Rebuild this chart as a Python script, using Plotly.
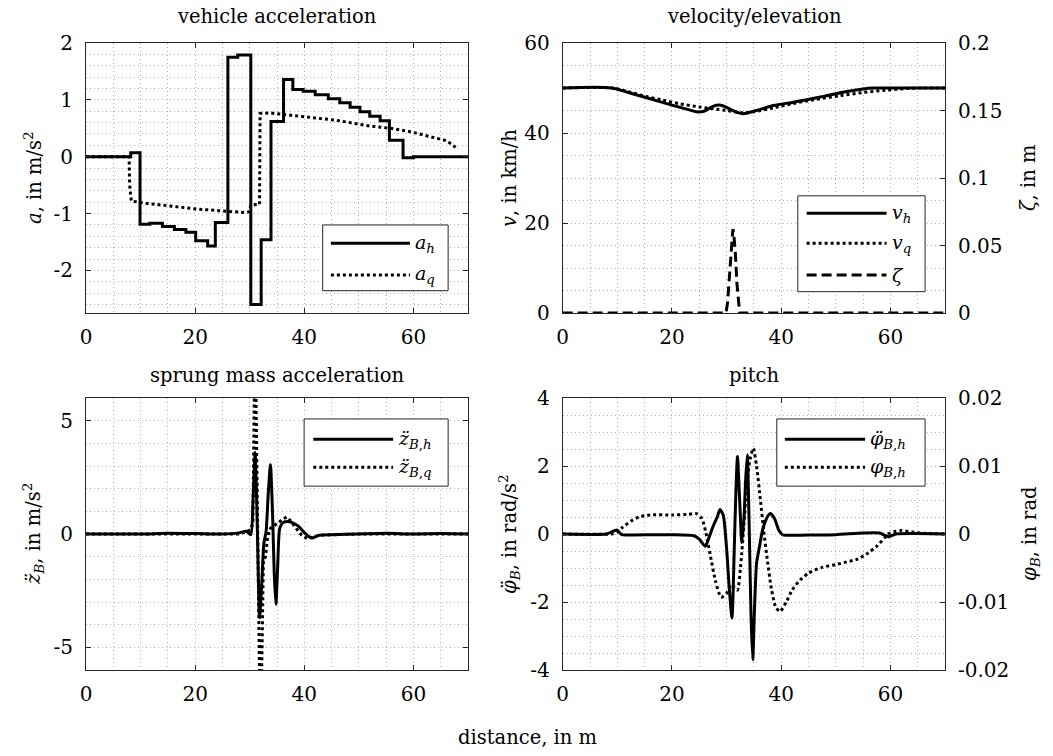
import plotly.graph_objects as go

# ---------------- data ----------------
x_ticks = [0, 20, 40, 60]

# vehicle acceleration in m/s^2: stair profile a_h (segment start positions, m) and a_q
ah_x = [0, 8.2, 9.9, 11.7, 14.0, 16.2, 18.3, 20.1, 22.3, 23.7, 26.0, 27.8, 30.2, 32.1, 33.9,
        36.2, 37.9, 39.8, 42.0, 44.4, 46.5, 48.4, 50.2, 52.0, 53.9, 55.6, 58.1, 60.0, 70.0]
ah_val = [0, 0.07, -1.19, -1.17, -1.23, -1.28, -1.33, -1.48, -1.57, -1.16, 1.75, 1.79, -2.6, -1.46, 0.62,
          1.36, 1.18, 1.15, 1.09, 1.02, 0.95, 0.87, 0.79, 0.71, 0.63, 0.29, -0.02, 0, 0]
aq_x = [0, 7.9, 8.0, 8.3, 11, 15.3, 20.2, 24.4, 28.7, 29.9, 30.2, 31.8, 31.9, 33.7,
        39.8, 45.9, 52.0, 55.7, 59.4, 63.0, 66.1, 68.2]
aq_val = [0, 0, -0.5, -0.78, -0.82, -0.865, -0.92, -0.95, -0.98, -0.97, -0.85, -0.84, 0.76, 0.77,
          0.70, 0.64, 0.54, 0.50, 0.44, 0.36, 0.28, 0.13]

# velocity in km/h and road elevation in m
vh_x = [0, 9, 12, 16, 20, 23, 24.5, 26, 27.5, 28.7, 30, 31.5, 33, 36, 38.6, 42, 44.7, 48, 52, 55, 57, 60, 70]
vh_val = [50, 50, 49.0, 47.6, 46.2, 45.2, 44.7, 44.9, 45.9, 46.2, 45.7, 44.8, 44.3, 45.2, 46.1, 46.8,
          47.4, 48.2, 49.2, 49.8, 50, 50, 50]
vq_x = [0, 9, 12, 15.3, 18, 21.4, 25, 28, 30, 33, 35, 38.6, 42, 46, 50.8, 55, 59, 63, 66, 70]
vq_val = [50, 50, 49.2, 48.1, 47.4, 46.5, 45.8, 45.3, 45.0, 44.5, 44.7, 45.6, 46.5, 47.4, 48.3,
          49.0, 49.5, 49.9, 50, 50]
zeta_x = [0, 29.9, 30.2, 30.5, 30.8, 31.0, 31.15, 31.3, 31.6, 31.9, 32.2, 32.4, 70]
zeta_val = [0, 0, 0.008, 0.025, 0.047, 0.058, 0.062, 0.06, 0.045, 0.022, 0.006, 0, 0]

# sprung mass vertical acceleration in m/s^2
zh_x = [0, 10, 15, 20, 25, 28, 29.4, 30.2, 30.6, 31.0, 31.4, 31.8, 32.2, 32.6, 33.0, 33.4, 33.8,
        34.2, 34.5, 34.8, 35.1, 35.5, 36.1, 37.0, 37.8, 38.9, 40.1, 41.4, 42.6, 45, 50, 55, 60, 65, 70]
zh_val = [0, 0, 0.03, 0.02, 0, 0.05, 0.12, -0.03, 1.5, 3.6, 0.2, -3.7, -2.2, -0.4, 0.1, 1.8, 3.05,
          0.8, -1.8, -3.1, -1.6, 0.25, 0.5, 0.55, 0.5, 0.35, 0.04, -0.18, -0.06, -0.03, 0, 0.03, 0, 0.02, 0]
zq_x = [0, 10, 20, 28, 29.5, 30.2, 30.6, 30.9, 31.0, 31.15, 31.6, 32.0, 32.2, 32.5, 32.9, 33.2,
        33.6, 34.2, 35, 36, 36.8, 37.6, 38.5, 39.5, 40.5, 41.5, 43, 50, 60, 70]
zq_val = [0, 0, 0.02, 0, 0.1, 0.2, 0.5, 4.0, 10.0, 6.0, -2.0, -10.0, -6.0, -1.2, -1.0, -0.3,
          0.2, 0.35, 0.45, 0.65, 0.75, 0.55, 0.25, -0.05, -0.2, -0.15, -0.05, 0, 0, 0]

# pitch acceleration in rad/s^2 and pitch angle in rad
pa_x = [0, 8.0, 8.8, 9.9, 10.8, 12, 20, 24, 25.0, 26.1, 26.8, 27.6, 28.3, 28.8, 29.4, 30.0, 30.5,
        31.0, 31.4, 31.7, 32.0, 32.4, 32.8, 33.2, 33.5, 33.8, 34.1, 34.5, 34.8, 35.1, 35.5, 36.0,
        36.6, 37.3, 38.0, 38.8, 39.6, 40.3, 41.0, 45, 50, 55, 58, 59.7, 61, 70]
pa_val = [0, 0, 0.05, 0.12, -0.02, -0.03, -0.02, -0.05, -0.15, -0.36, -0.1, 0.25, 0.5, 0.72, 0.55,
          -0.4, -1.6, -2.47, -0.5, 1.2, 2.28, 1.0, -0.25, 0.5, 1.6, 2.33, 0.6, -2.5, -3.7, -2.3,
          -0.85, -0.4, 0.12, 0.45, 0.6, 0.45, 0.1, -0.03, -0.04, -0.03, -0.02, 0.03, 0.03, -0.08, 0, 0]
pitch_x = [0, 9, 10, 11, 12.5, 14, 16, 20, 23, 24.5, 25.5, 26.2, 27, 28, 29, 30, 30.8, 31.5, 32,
           32.6, 33.2, 33.7, 34.3, 34.9, 35.5, 36.2, 36.8, 37.5, 38.2, 39, 39.8, 41, 42, 43.5, 45,
           47.5, 50, 52, 54, 56, 57.5, 59, 59.5, 61, 62, 64, 66, 70]
pitch_val = [0, 0, 0.00025, 0.001, 0.0019, 0.0025, 0.0028, 0.0028, 0.0029, 0.003, 0.00225, 0.00025,
             -0.003, -0.007, -0.0093, -0.00875, -0.0075, -0.008, -0.00825, -0.0045, 0.0015, 0.007,
             0.011, 0.0126, 0.01, 0.005, 0.0005, -0.004, -0.008, -0.01075, -0.0114, -0.0099,
             -0.00825, -0.00675, -0.00575, -0.0049, -0.0045, -0.0041, -0.0037, -0.00275, -0.0018,
             -0.0005, 0, 0.0004, 0.0005, 0.0003, 0.0001, 0]

# ---------------- figure ----------------
W, H = 1053, 756
FONT = "DejaVu Serif"
INK = "#000000"
AXC = "#262626"
GRIDC = "#b0b0b0"
GRIDDASH = "1px,3px"
LW = 3
TICK_SIZE = 20
LABEL_SIZE = 19.5
LEG_SIZE = 19


def fx(p):
    return p / W


def fy(p):
    return 1 - p / H


fig = go.Figure()


def add_line(x, y, xa, ya, dash="solid", shape="linear", smoothing=None):
    line = dict(color=INK, width=LW, dash=dash, shape=shape)
    if smoothing is not None:
        line["smoothing"] = smoothing
    fig.add_trace(go.Scatter(x=x, y=y, xaxis=xa, yaxis=ya, mode="lines", line=line,
                             showlegend=False, hoverinfo="skip"))


add_line(ah_x, ah_val, "x", "y", shape="hv")
add_line(aq_x, aq_val, "x", "y", dash="dot")
add_line(vh_x, vh_val, "x2", "y2", shape="spline", smoothing=0.8)
add_line(vq_x, vq_val, "x2", "y2", dash="dot", shape="spline", smoothing=0.8)
add_line(zeta_x, zeta_val, "x2", "y5", dash="10px,5px")
add_line(zh_x, zh_val, "x3", "y3", shape="spline", smoothing=0.6)
add_line(zq_x, zq_val, "x3", "y3", dash="dot")
add_line(pa_x, pa_val, "x4", "y4", shape="spline", smoothing=0.6)
add_line(pitch_x, pitch_val, "x4", "y6", dash="dot", shape="spline", smoothing=0.6)

tickfont = dict(family=FONT, size=TICK_SIZE, color=INK)
grid = dict(showgrid=True, gridcolor=GRIDC, griddash=GRIDDASH, gridwidth=1)


def xaxis(domain, anchor):
    return dict(domain=domain, anchor=anchor, range=[0, 70], tickvals=x_ticks,
                ticktext=[str(v) for v in x_ticks], ticks="inside", ticklen=5, tickcolor=AXC,
                showline=True, linecolor=AXC, linewidth=1, mirror="ticks", zeroline=False,
                tickfont=tickfont, ticklabelstandoff=6,
                minor=dict(dtick=5, ticks="", **grid), **grid)


def yaxis(domain, anchor, rng, vals, texts, minor_dtick, mirror="ticks"):
    return dict(domain=domain, anchor=anchor, range=rng, tickvals=vals, ticktext=texts,
                ticks="inside", ticklen=5, tickcolor=AXC, showline=True, linecolor=AXC,
                linewidth=1, mirror=mirror, zeroline=False, tickfont=tickfont,
                ticklabelstandoff=8, minor=dict(dtick=minor_dtick, tick0=0, ticks="", **grid), **grid)


def yaxis_right(over, anchor, rng, vals, texts):
    return dict(overlaying=over, anchor=anchor, side="right", range=rng, tickvals=vals,
                ticktext=texts, ticks="inside", ticklen=5, tickcolor=AXC, showline=True,
                linecolor=AXC, linewidth=1, zeroline=False, showgrid=False,
                tickfont=tickfont, ticklabelstandoff=8)


dx_l = [fx(86), fx(468)]
dx_r = [fx(562.7), fx(945)]
dy_t = [fy(313), fy(43)]
dy_b = [fy(670), fy(398)]

fig.update_layout(
    width=W, height=H, template="none",
    margin=dict(l=0, r=0, t=0, b=0),
    paper_bgcolor="white", plot_bgcolor="white", showlegend=False,
    font=dict(family=FONT, size=TICK_SIZE, color=INK),
    xaxis=xaxis(dx_l, "y"),
    xaxis2=xaxis(dx_r, "y2"),
    xaxis3=xaxis(dx_l, "y3"),
    xaxis4=xaxis(dx_r, "y4"),
    yaxis=yaxis(dy_t, "x", [-2.75, 2], [-2, -1, 0, 1, 2], ["-2", "-1", "0", "1", "2"], 0.2),
    yaxis2=yaxis(dy_t, "x2", [0, 60], [0, 20, 40, 60], ["0", "20", "40", "60"], 5, mirror=False),
    yaxis3=yaxis(dy_b, "x3", [-6, 6], [-5, 0, 5], ["-5", "0", "5"], 1),
    yaxis4=yaxis(dy_b, "x4", [-4, 4], [-4, -2, 0, 2, 4], ["-4", "-2", "0", "2", "4"], 0.5, mirror=False),
    yaxis5=yaxis_right("y2", "x2", [0, 0.2], [0, 0.05, 0.1, 0.15, 0.2],
                       ["0", "0.05", "0.1", "0.15", "0.2"]),
    yaxis6=yaxis_right("y4", "x4", [-0.02, 0.02], [-0.02, -0.01, 0, 0.01, 0.02],
                       ["-0.02", "-0.01", "0", "0.01", "0.02"]),
)


def text(px, py, s, angle=0, size=LABEL_SIZE):
    fig.add_annotation(x=fx(px), y=fy(py), xref="paper", yref="paper", text=s, showarrow=False,
                       xanchor="center", yanchor="middle", textangle=angle,
                       font=dict(family=FONT, size=size, color=INK))


# panel titles
text(277, 16, "vehicle acceleration")
text(754, 16, "velocity/elevation")
text(277, 375, "sprung mass acceleration")
text(754, 375, "pitch")

# axis labels
text(527, 737, "distance, in m")
text(33, 178, "<i>a</i>, in m/s<sup>2</sup>", -90)
text(509, 178, "<i>v</i>, in km/h", -90)
text(1028, 178, "<i>ζ</i>, in m", -90)
text(33, 534, "<i>z\u0308</i><sub><i>B</i></sub>, in m/s<sup>2</sup>", -90)
text(509, 534, "<i>φ\u0308</i><sub><i>B</i></sub>, in rad/s<sup>2</sup>", -90)
text(1030, 534, "<i>φ</i><sub><i>B</i></sub>, in rad", -90)


def legend_box(xa, ya, box, line_x, text_x, entries):
    xr, yr = f"{xa} domain", f"{ya} domain"
    fig.add_shape(type="rect", xref=xr, yref=yr, x0=box[0], x1=box[1], y0=box[2], y1=box[3],
                  line=dict(color=AXC, width=1), fillcolor="white", layer="above")
    for label, dash, yy in entries:
        fig.add_shape(type="line", xref=xr, yref=yr, x0=line_x[0], x1=line_x[1], y0=yy, y1=yy,
                      line=dict(color=INK, width=LW, dash=dash), layer="above")
        fig.add_annotation(xref=xr, yref=yr, x=text_x, y=yy, text=label, showarrow=False,
                           xanchor="left", yanchor="middle",
                           font=dict(family=FONT, size=LEG_SIZE, color=INK))


legend_box("x", "y", (0.6196, 0.948, 0.0826, 0.326), (0.641, 0.848), 0.855,
           [("<i>a</i><sub><i>h</i></sub>", "solid", 0.258),
            ("<i>a</i><sub><i>q</i></sub>", "dot", 0.141)])
legend_box("x2", "y2", (0.615, 0.948, 0.079, 0.434), (0.638, 0.847), 0.855,
           [("<i>v</i><sub><i>h</i></sub>", "solid", 0.369),
            ("<i>v</i><sub><i>q</i></sub>", "dot", 0.258),
            ("<i>ζ</i>", "10px,5px", 0.141)])
legend_box("x3", "y3", (0.571, 0.948, 0.676, 0.923), (0.595, 0.804), 0.812,
           [("<i>z\u0308</i><sub><i>B</i>,<i>h</i></sub>", "solid", 0.848),
            ("<i>z\u0308</i><sub><i>B</i>,<i>q</i></sub>", "dot", 0.745)])
legend_box("x4", "y4", (0.56, 0.948, 0.676, 0.923), (0.581, 0.791), 0.799,
           [("<i>φ\u0308</i><sub><i>B</i>,<i>h</i></sub>", "solid", 0.848),
            ("<i>φ</i><sub><i>B</i>,<i>h</i></sub>", "dot", 0.745)])

fig.write_html("out.html")
